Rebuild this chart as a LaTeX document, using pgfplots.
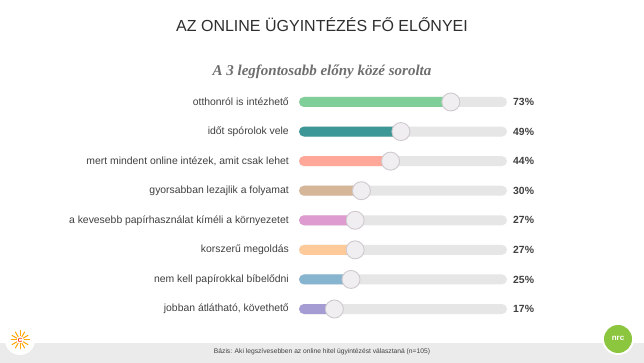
\documentclass[border=0pt]{standalone}
\usepackage{pgfplots}
\pgfplotsset{compat=1.18}
\usepackage{fontspec}
\setmainfont{Liberation Sans}
\newfontfamily\serifbi{Liberation Serif}
\definecolor{c1}{HTML}{80CF99}
\definecolor{c2}{HTML}{3D9797}
\definecolor{c3}{HTML}{FFA89A}
\definecolor{c4}{HTML}{D5B698}
\definecolor{c5}{HTML}{DE9BD0}
\definecolor{c6}{HTML}{FFCA9A}
\definecolor{c7}{HTML}{87B5D0}
\definecolor{c8}{HTML}{A59CD3}
\definecolor{track}{HTML}{E6E6E6}
\definecolor{foot}{HTML}{EBEBEB}
\definecolor{titlegray}{HTML}{2E2E2E}
\definecolor{subgray}{HTML}{6E6E6E}
\definecolor{labgray}{HTML}{404040}
\definecolor{knobfill}{HTML}{F0EEF0}
\definecolor{knobdraw}{HTML}{CFC9CF}
\definecolor{nrcgreen}{HTML}{8CC63F}
\pgfplotstableread{
row val full
0 73 100
1 49 100
2 44 100
3 30 100
4 27 100
5 27 100
6 25 100
7 17 100
}\datatable
\begin{document}
\begin{tikzpicture}[x=1pt,y=1pt]
\path[use as bounding box] (0,0) rectangle (644,363);
\fill[white] (0,0) rectangle (644,363);
\fill[foot] (0,0) rectangle (644,20);
\node[font=\fontsize{16}{18}\selectfont, text=titlegray] at (322,338) {AZ ONLINE ÜGYINTÉZÉS FŐ ELŐNYEI};
\node[font=\serifbi\bfseries\itshape\fontsize{15}{17}\selectfont, text=subgray] at (322,291) {A 3 legfontosabb előny közé sorolta};
\node[font=\fontsize{6.7}{8}\selectfont, text=labgray] at (322,11) {Bázis: Aki legszívesebben az online hitel ügyintézést választaná (n=105)};
% logos
\fill[white] (20,23) circle (15);
\foreach \a in {0,30,...,330}{\draw[orange!70!yellow, line width=1pt] (20,23) ++(\a:3.5) -- ++(\a:6);}
\node[font=\bfseries\fontsize{6}{6}\selectfont, text=red!70!orange] at (20,23) {C};
\fill[white] (618,24) circle (16);
\fill[nrcgreen] (618,24) circle (14);
\node[font=\bfseries\fontsize{8}{8}\selectfont, text=white] at (618,25) {nrc};
\begin{axis}[at={(299pt,275.8pt)}, anchor=north west, scale only axis,
  width=208pt, height=236.6pt, xmin=0, xmax=100, ymin=-0.5, ymax=7.5,
  y dir=reverse, clip=false, axis line style={draw=none},
  xtick=\empty, ytick={0,...,7},
  yticklabels={otthonról is intézhető, időt spórolok vele, {mert mindent online intézek, amit csak lehet}, gyorsabban lezajlik a folyamat, a kevesebb papírhasználat kíméli a környezetet, korszerű megoldás, nem kell papírokkal bíbelődni, {jobban átlátható, követhető}},
  major tick length=0pt,
  /pgf/number format/assume math mode=true,
  yticklabel style={font=\fontsize{10.4}{12}\selectfont, text=labgray, inner sep=0pt, xshift=-10pt},
  bar width=10pt, bar shift=0pt]
\addplot[xbar, fill=track, draw=none, rounded corners=5pt] table[x=full,y=row] {\datatable};
\addplot[xbar, fill=c1, draw=none, rounded corners=5pt] coordinates {(73,0)};
\addplot[xbar, fill=c2, draw=none, rounded corners=5pt] coordinates {(49,1)};
\addplot[xbar, fill=c3, draw=none, rounded corners=5pt] coordinates {(44,2)};
\addplot[xbar, fill=c4, draw=none, rounded corners=5pt] coordinates {(30,3)};
\addplot[xbar, fill=c5, draw=none, rounded corners=5pt] coordinates {(27,4)};
\addplot[xbar, fill=c6, draw=none, rounded corners=5pt] coordinates {(27,5)};
\addplot[xbar, fill=c7, draw=none, rounded corners=5pt] coordinates {(25,6)};
\addplot[xbar, fill=c8, draw=none, rounded corners=5pt] coordinates {(17,7)};
\addplot[only marks, mark=*, mark size=9pt, mark options={fill=knobfill, draw=knobdraw, line width=0.9pt}] table[x=val,y=row] {\datatable};
\addplot[draw=none, mark=none, nodes near coords={\pgfmathprintnumber{\pgfplotspointmeta}\%}, point meta=explicit,
  every node near coord/.append style={anchor=west, xshift=6pt, inner sep=0pt, font=\bfseries\fontsize{10.4}{12}\selectfont, text=labgray}]
  table[x=full,y=row,meta=val] {\datatable};
\end{axis}
\end{tikzpicture}
\end{document}
